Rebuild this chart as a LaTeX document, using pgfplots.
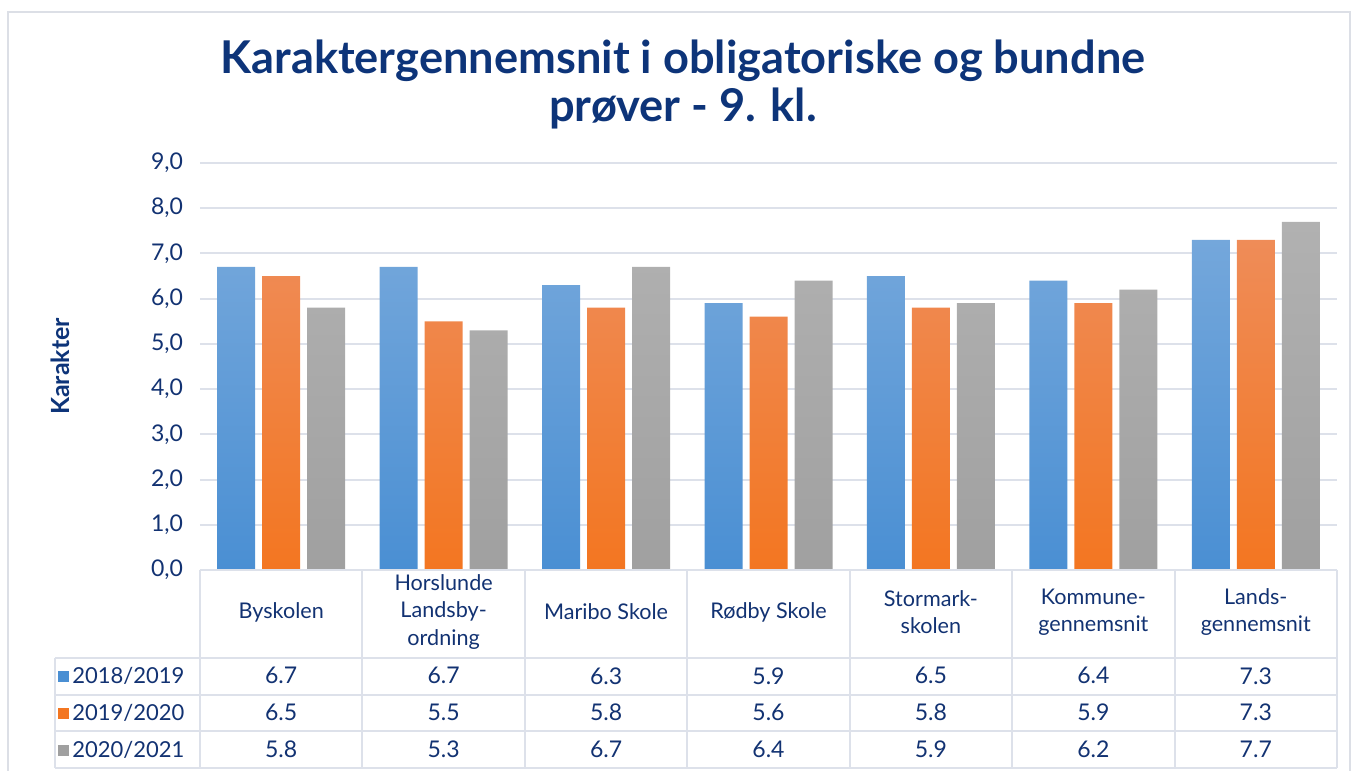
\documentclass[border=0pt]{standalone}
\usepackage{pgfplots}
\pgfplotsset{compat=1.18}
\usepackage{pgfplotstable}
\usepackage{fontspec}
\setmainfont{Lato}
\definecolor{titlec}{HTML}{0D3479}
\definecolor{txt}{HTML}{123272}
\definecolor{gridc}{HTML}{DDE1EA}
\definecolor{framec}{HTML}{DCDFE6}
\definecolor{blueT}{HTML}{74A7DB}
\definecolor{blueB}{HTML}{4A8FD3}
\definecolor{orT}{HTML}{EF8C58}
\definecolor{orB}{HTML}{F37621}
\definecolor{grT}{HTML}{B1B1B1}
\definecolor{grB}{HTML}{A0A0A0}

\pgfplotstableread{
x a b c
0 6.7 6.5 5.8
1 6.7 5.5 5.3
2 6.3 5.8 6.7
3 5.9 5.6 6.4
4 6.5 5.8 5.9
5 6.4 5.9 6.2
6 7.3 7.3 7.7
}\data

\begin{document}
\begin{tikzpicture}
\begin{axis}[
  name=ax, scale only axis, width=568.5pt, height=203.5pt,
  xmin=-0.5, xmax=6.5, ymin=0, ymax=9,
  clip=false,
  axis line style={draw=none},
  ytick={0,1,...,9}, xtick={0,...,6},
  major tick length=0pt,
  ymajorgrids, grid style={draw=gridc, line width=1pt},
  /pgf/number format/assume math mode=true,
  yticklabel style={/pgf/number format/.cd, fixed, fixed zerofill, precision=1, use comma,
     /tikz/.cd, font=\fontsize{11.5}{12}\selectfont, text=txt, xshift=-5pt},
  xticklabels={Byskolen, {Horslunde\\Landsby-\\ordning}, Maribo Skole, Rødby Skole,
     {Stormark-\\skolen}, {Kommune-\\gennemsnit}, {Lands-\\gennemsnit}},
  xticklabel style={align=center, anchor=center, yshift=-21pt,
     font=\fontsize{10.8}{13.75}\selectfont, text=txt},
  ylabel={Karakter},
  ylabel style={at={(axis description cs:-0.123,0.5)}, anchor=center, rotate=0,
     font=\fontsize{12.5}{14}\selectfont\bfseries, text=titlec},
  title={Karaktergennemsnit i obligatoriske og bundne\\prøver - 9. kl.},
  title style={at={(axis description cs:0.4248,1.163)}, anchor=center, align=center,
     font=\fontsize{22.6}{24}\selectfont\bfseries, text=titlec},
  every node near coord/.style={anchor=center, font=\fontsize{11.5}{12}\selectfont, text=txt},
]
\addplot[ybar, bar width=19pt, bar shift=-22.5pt, draw=none, top color=blueT, bottom color=blueB]
  table[x=x, y=a]{\data};
\addplot[ybar, bar width=19pt, bar shift=0pt, draw=none, top color=orT, bottom color=orB]
  table[x=x, y=b]{\data};
\addplot[ybar, bar width=19pt, bar shift=22.5pt, draw=none, top color=grT, bottom color=grB]
  table[x=x, y=c]{\data};

% data table values
\addplot[draw=none, forget plot, nodes near coords, point meta=explicit symbolic]
  table[x=x, y expr=-2.34, meta=a]{\data};
\addplot[draw=none, forget plot, nodes near coords, point meta=explicit symbolic]
  table[x=x, y expr=-3.155, meta=b]{\data};
\addplot[draw=none, forget plot, nodes near coords, point meta=explicit symbolic]
  table[x=x, y expr=-3.97, meta=c]{\data};

% table lines
\begin{scope}[draw=gridc, line width=1pt]
\draw (axis cs:-0.5,0) -- (axis cs:6.5,0);
\draw (axis cs:-1.393,-1.95) -- (axis cs:6.5,-1.95);
\draw (axis cs:-1.393,-2.76) -- (axis cs:6.5,-2.76);
\draw (axis cs:-1.393,-3.57) -- (axis cs:6.5,-3.57);
\draw (axis cs:-1.393,-4.38) -- (axis cs:6.5,-4.38);
\draw (axis cs:-1.393,-1.95) -- (axis cs:-1.393,-4.38);
\draw (axis cs:-0.5,0) -- (axis cs:-0.5,-4.38);
\draw (axis cs:0.5,0) -- (axis cs:0.5,-4.38);
\draw (axis cs:1.5,0) -- (axis cs:1.5,-4.38);
\draw (axis cs:2.5,0) -- (axis cs:2.5,-4.38);
\draw (axis cs:3.5,0) -- (axis cs:3.5,-4.38);
\draw (axis cs:4.5,0) -- (axis cs:4.5,-4.38);
\draw (axis cs:5.5,0) -- (axis cs:5.5,-4.38);
\draw (axis cs:6.5,0) -- (axis cs:6.5,-4.38);
\end{scope}
% row labels (legend)
\node[anchor=west, inner sep=0pt, font=\fontsize{11}{12}\selectfont, text=txt] at (axis cs:-1.375,-2.34)
  {{\color{blueB}\rule[0.5pt]{5.5pt}{5.5pt}}\kern1.5pt 2018/2019};
\node[anchor=west, inner sep=0pt, font=\fontsize{11}{12}\selectfont, text=txt] at (axis cs:-1.375,-3.155)
  {{\color{orB}\rule[0.5pt]{5.5pt}{5.5pt}}\kern1.5pt 2019/2020};
\node[anchor=west, inner sep=0pt, font=\fontsize{11}{12}\selectfont, text=txt] at (axis cs:-1.375,-3.97)
  {{\color{grB}\rule[0.5pt]{5.5pt}{5.5pt}}\kern1.5pt 2020/2021};
\end{axis}
\draw[framec, line width=1pt] ([shift={(-96pt,-110pt)}]ax.south west) -- ([shift={(-96pt,75.5pt)}]ax.north west)
  -- ([shift={(6.5pt,75.5pt)}]ax.north east) -- ([shift={(6.5pt,-110pt)}]ax.south east);
\pgfresetboundingbox
\path[use as bounding box] ([shift={(-100pt,-100.5pt)}]ax.south west) rectangle ([shift={(10pt,81.5pt)}]ax.north east);
\end{tikzpicture}
\end{document}
